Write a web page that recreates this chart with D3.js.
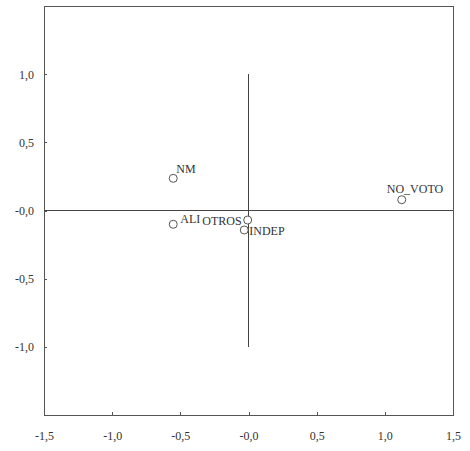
<!DOCTYPE html>
<html>
<head>
<meta charset="utf-8">
<script src="https://cdn.jsdelivr.net/npm/d3@7"></script>
<style>
  body { margin: 0; background: #fff; }
  text { font-family: "Liberation Serif", serif; }
</style>
</head>
<body>
<svg id="chart"></svg>
<script>
const width = 470;
const height = 451;

// category labels and their coordinates
const names = ["NM", "ALI", "OTROS", "INDEP", "NO_VOTO"];
const dim1 = [-0.552, -0.552, -0.006, -0.031, 1.124];
const dim2 = [0.236, -0.101, -0.070, -0.143, 0.079];

const xTicks = [-1.5, -1.0, -0.5, 0.0, 0.5, 1.0, 1.5];
const yTicks = [1.0, 0.5, 0.0, -0.5, -1.0];

// label placement relative to each point (layout only)
const labelPos = {
  NM:      {dx: 3,   dy: -5, anchor: "start"},
  ALI:     {dx: 7,   dy: -1, anchor: "start"},
  OTROS:   {dx: -6,  dy: 5,  anchor: "end"},
  INDEP:   {dx: 5,   dy: 5,  anchor: "start"},
  NO_VOTO: {dx: -15, dy: -7, anchor: "start"}
};

const svg = d3.select("#chart")
  .attr("width", width)
  .attr("height", height);

const x = d3.scaleLinear().domain([-1.5, 1.5]).range([44, 453]);
const y = d3.scaleLinear().domain([-1.5, 1.5]).range([415, 6]);

// comma decimal, "-0,0" for zero like the original
const fmt = v => (v <= 0 ? "-" : "") + Math.abs(v).toFixed(1).replace(".", ",");

const ink = "#333";
const serif = '"Liberation Serif", serif';

// frame
svg.append("rect")
  .attr("x", x(-1.5))
  .attr("y", y(1.5))
  .attr("width", x(1.5) - x(-1.5))
  .attr("height", y(-1.5) - y(1.5))
  .attr("fill", "none")
  .attr("stroke", "#555")
  .attr("stroke-width", 1)
  .attr("shape-rendering", "crispEdges");

// inward ticks and labels
const xAxis = d3.axisBottom(x).tickValues(xTicks).tickSize(-3).tickPadding(16).tickFormat(fmt);
const yAxis = d3.axisLeft(y).tickValues(yTicks).tickSize(-3).tickPadding(10).tickFormat(fmt);

const gx = svg.append("g")
  .attr("transform", `translate(0,${y(-1.5)})`)
  .call(xAxis);
const gy = svg.append("g")
  .attr("transform", `translate(${x(-1.5)},0)`)
  .call(yAxis);

[gx, gy].forEach(g => {
  g.attr("font-family", serif).attr("font-size", 12);
  g.select(".domain").remove();
  g.selectAll("line").attr("stroke", "#555").attr("shape-rendering", "crispEdges");
  g.selectAll("text").attr("fill", ink);
});

// reference lines through the origin
svg.append("line")
  .attr("x1", x(-1.5)).attr("x2", x(1.5))
  .attr("y1", y(0)).attr("y2", y(0))
  .attr("stroke", "#444")
  .attr("shape-rendering", "crispEdges");

svg.append("line")
  .attr("x1", x(0)).attr("x2", x(0))
  .attr("y1", y(1)).attr("y2", y(-1))
  .attr("stroke", "#444")
  .attr("shape-rendering", "crispEdges");

const points = names.map((n, i) => ({name: n, x: dim1[i], y: dim2[i]}));

const pts = svg.append("g").selectAll("g.pt")
  .data(points)
  .enter()
  .append("g")
  .attr("class", "pt")
  .attr("transform", d => `translate(${x(d.x)},${y(d.y)})`);

pts.append("circle")
  .attr("r", 4)
  .attr("fill", "#fff")
  .attr("stroke", "#555")
  .attr("stroke-width", 1);

pts.append("text")
  .attr("x", d => labelPos[d.name].dx)
  .attr("y", d => labelPos[d.name].dy)
  .attr("text-anchor", d => labelPos[d.name].anchor)
  .attr("fill", ink)
  .attr("font-family", serif)
  .attr("font-size", 12)
  .text(d => d.name);
</script>
</body>
</html>
